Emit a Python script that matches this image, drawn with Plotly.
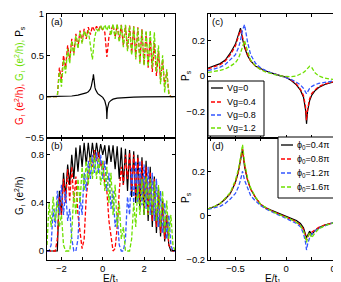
import plotly.graph_objects as go

W, H = 341, 282
FONT = "Liberation Sans, Arial, Helvetica, sans-serif"

# ---------------- data: panels (a) and (b) ----------------
E_ab = [-2.7, -2.6, -2.5, -2.4, -2.3, -2.2, -2.1, -2.0, -1.9, -1.8,
        -1.7, -1.6, -1.5, -1.4, -1.3, -1.2, -1.1, -1.0, -0.9, -0.8,
        -0.7, -0.6, -0.5, -0.4, -0.3, -0.2, -0.1, 0.0, 0.1, 0.2,
        0.3, 0.4, 0.5, 0.6, 0.7, 0.8, 0.9, 1.0, 1.1, 1.2,
        1.3, 1.4, 1.5, 1.6, 1.7, 1.8, 1.9, 2.0, 2.1, 2.2,
        2.3, 2.4, 2.5, 2.6, 2.7, 2.8, 2.9, 3.0, 3.1, 3.2,
        3.3, 3.4, 3.5]

G_up_a = [0, 0, 0, 0, 0, 0, 0.35, 0.2, 0.5, 0.35,
          0.62, 0.45, 0.7, 0.52, 0.76, 0.6, 0.8, 0.66, 0.82, 0.7,
          0.84, 0.75, 0.85, 0.8, 0.85, 0.81, 0.86, 0.8, 0.78, 0.48,
          0.72, 0.8, 0.87, 0.72, 0.87, 0.68, 0.87, 0.62, 0.86, 0.57,
          0.86, 0.52, 0.85, 0.48, 0.84, 0.42, 0.82, 0.38, 0.78, 0.35,
          0.72, 0.3, 0.65, 0.25, 0.55, 0.2, 0.45, 0.12, 0.3, 0.05,
          0, 0, 0]

G_dn_a = [0, 0, 0, 0, 0, 0, 0.3, 0.12, 0.45, 0.28,
          0.58, 0.4, 0.68, 0.5, 0.74, 0.58, 0.78, 0.64, 0.8, 0.72,
          0.8, 0.62, 0.45, 0.7, 0.82, 0.78, 0.86, 0.8, 0.87, 0.8,
          0.87, 0.74, 0.88, 0.7, 0.88, 0.66, 0.87, 0.6, 0.87, 0.55,
          0.86, 0.5, 0.85, 0.45, 0.83, 0.4, 0.81, 0.38, 0.8, 0.36,
          0.8, 0.35, 0.78, 0.3, 0.62, 0.15, 0.5, 0.05, 0.33, 0.02,
          0, 0, 0]

E_ps = [-2.7, -2.2, -1.8, -1.5, -1.2, -1.0, -0.8, -0.7, -0.6, -0.55,
        -0.5, -0.47, -0.45, -0.43, -0.41, -0.38, -0.35, -0.3, -0.25, -0.2,
        -0.1, 0.0, 0.1, 0.14, 0.17, 0.19, 0.2, 0.21, 0.23, 0.26,
        0.3, 0.4, 0.5, 0.7, 1.0, 1.5, 2.0, 2.5, 3.0, 3.5]
Ps_a = [0, 0, 0.003, 0.008, 0.018, 0.028, 0.045, 0.058, 0.09, 0.13,
        0.18, 0.23, 0.27, 0.21, 0.16, 0.115, 0.085, 0.055, 0.04, 0.028,
        0.008, -0.008, -0.05, -0.08, -0.12, -0.19, -0.27, -0.2, -0.14, -0.1,
        -0.07, -0.045, -0.03, -0.018, -0.01, -0.005, -0.003, -0.002, 0, 0]

G_vg0 = [0, 0, 0, 0, 0, 0, 0.5, 0.3, 0.65, 0.45,
         0.72, 0.55, 0.8, 0.6, 0.86, 0.66, 0.88, 0.7, 0.9, 0.72,
         0.9, 0.74, 0.9, 0.76, 0.9, 0.78, 0.89, 0.8, 0.88, 0.72,
         0.88, 0.74, 0.88, 0.68, 0.87, 0.6, 0.86, 0.55, 0.85, 0.5,
         0.84, 0.45, 0.83, 0.4, 0.8, 0.35, 0.78, 0.3, 0.75, 0.25,
         0.7, 0.2, 0.62, 0.15, 0.52, 0.12, 0.42, 0.08, 0.3, 0.05,
         0, 0, 0]

G_vg04 = [0, 0, 0, 0, 0, 0.1, 0.45, 0.3, 0.6, 0.4,
          0.68, 0.42, 0.7, 0.4, 0.62, 0.3, 0.15, 0.02, 0.1, 0.45,
          0.6, 0.78, 0.7, 0.84, 0.75, 0.82, 0.7, 0.75, 0.55, 0.5,
          0.25, 0.1, 0.0, 0.02, 0.2, 0.5, 0.7, 0.55, 0.8, 0.6,
          0.82, 0.5, 0.8, 0.45, 0.78, 0.4, 0.75, 0.35, 0.7, 0.3,
          0.66, 0.25, 0.6, 0.2, 0.5, 0.15, 0.4, 0.1, 0.3, 0.05,
          0.02, 0, 0]

G_vg08 = [0, 0, 0.05, 0.35, 0.2, 0.5, 0.3, 0.55, 0.3, 0.5,
          0.25, 0.35, 0.1, 0.0, 0.0, 0.1, 0.45, 0.3, 0.65, 0.5,
          0.75, 0.6, 0.8, 0.65, 0.82, 0.65, 0.8, 0.6, 0.75, 0.5,
          0.65, 0.35, 0.5, 0.2, 0.3, 0.05, 0.0, 0.0, 0.1, 0.45,
          0.3, 0.7, 0.4, 0.75, 0.4, 0.75, 0.38, 0.72, 0.35, 0.7,
          0.3, 0.65, 0.25, 0.6, 0.2, 0.5, 0.15, 0.4, 0.1, 0.3,
          0.05, 0, 0]

G_vg12 = [0.05, 0.4, 0.2, 0.45, 0.25, 0.42, 0.2, 0.3, 0.05, 0.0,
          0.0, 0.0, 0.15, 0.5, 0.3, 0.6, 0.4, 0.7, 0.5, 0.75,
          0.55, 0.78, 0.6, 0.8, 0.6, 0.78, 0.55, 0.75, 0.5, 0.7,
          0.4, 0.65, 0.3, 0.55, 0.2, 0.4, 0.1, 0.2, 0.0, 0.0,
          0.0, 0.1, 0.4, 0.2, 0.55, 0.3, 0.6, 0.3, 0.62, 0.3,
          0.6, 0.3, 0.58, 0.25, 0.55, 0.2, 0.5, 0.15, 0.42, 0.1,
          0.3, 0.05, 0.0]

# ---------------- data: panels (c) and (d) ----------------
E_cd = [-0.77, -0.7, -0.65, -0.6, -0.55, -0.5, -0.47, -0.45, -0.43, -0.41,
        -0.38, -0.35, -0.3, -0.25, -0.2, -0.15, -0.1, -0.05, 0.0, 0.05,
        0.1, 0.14, 0.17, 0.19, 0.2, 0.21, 0.23, 0.25, 0.28, 0.32,
        0.38, 0.44, 0.5]

Ps_vg0 = [0.045, 0.058, 0.07, 0.09, 0.13, 0.18, 0.23, 0.27, 0.21, 0.16,
          0.115, 0.085, 0.055, 0.04, 0.028, 0.018, 0.008, 0.0, -0.008, -0.025,
          -0.05, -0.08, -0.12, -0.19, -0.27, -0.2, -0.14, -0.11, -0.085, -0.065,
          -0.048, -0.038, -0.03]
Ps_vg04 = [0.04, 0.052, 0.064, 0.085, 0.12, 0.17, 0.22, 0.26, 0.22, 0.17,
           0.12, 0.085, 0.055, 0.038, 0.026, 0.016, 0.007, 0.0, -0.007, -0.022,
           -0.045, -0.075, -0.11, -0.17, -0.25, -0.19, -0.13, -0.1, -0.08, -0.06,
           -0.045, -0.035, -0.028]
Ps_vg08 = [0.03, 0.04, 0.05, 0.065, 0.09, 0.12, 0.16, 0.2, 0.26, 0.29,
           0.19, 0.12, 0.07, 0.045, 0.03, 0.018, 0.008, 0.0, -0.008, -0.02,
           -0.035, -0.05, -0.07, -0.095, -0.1, -0.09, -0.07, -0.06, -0.05, -0.042,
           -0.035, -0.03, -0.026]
Ps_vg12 = [0.02, 0.026, 0.032, 0.04, 0.055, 0.075, 0.1, 0.13, 0.17, 0.2,
           0.14, 0.09, 0.055, 0.035, 0.022, 0.012, 0.006, 0.0, -0.002, -0.004,
           0.0, 0.01, 0.02, 0.03, 0.035, 0.04, 0.055, 0.05, 0.02, 0.0,
           -0.012, -0.018, -0.02]

Ps_phi04 = [0.03, 0.042, 0.055, 0.075, 0.1, 0.15, 0.2, 0.25, 0.3, 0.22,
            0.16, 0.12, 0.08, 0.05, 0.035, 0.025, 0.015, 0.005, -0.003, -0.012,
            -0.022, -0.035, -0.055, -0.085, -0.1, -0.09, -0.07, -0.085, -0.07, -0.055,
            -0.043, -0.035, -0.028]
Ps_phi08 = [0.03, 0.042, 0.055, 0.076, 0.1, 0.15, 0.2, 0.25, 0.3, 0.23,
            0.16, 0.12, 0.08, 0.05, 0.034, 0.023, 0.012, 0.002, -0.006, -0.016,
            -0.028, -0.042, -0.062, -0.09, -0.11, -0.1, -0.08, -0.075, -0.065, -0.053,
            -0.042, -0.034, -0.028]
Ps_phi12 = [0.028, 0.035, 0.042, 0.055, 0.075, 0.1, 0.13, 0.16, 0.2, 0.16,
            0.12, 0.09, 0.065, 0.045, 0.03, 0.018, 0.008, -0.002, -0.012, -0.022,
            -0.035, -0.05, -0.08, -0.12, -0.155, -0.13, -0.1, -0.085, -0.07, -0.057,
            -0.045, -0.036, -0.029]
Ps_phi16 = [0.03, 0.043, 0.056, 0.078, 0.105, 0.16, 0.21, 0.26, 0.32, 0.24,
            0.17, 0.125, 0.082, 0.05, 0.034, 0.022, 0.011, 0.0, -0.008, -0.018,
            -0.03, -0.045, -0.068, -0.1, -0.12, -0.1, -0.075, -0.1, -0.08, -0.06,
            -0.045, -0.036, -0.029]

vg_labels = ["Vg=0", "Vg=0.4", "Vg=0.8", "Vg=1.2"]
phi_labels = ["ϕ<sub>0</sub>=0.4π", "ϕ<sub>0</sub>=0.8π", "ϕ<sub>0</sub>=1.2π", "ϕ<sub>0</sub>=1.6π"]

BLACK, RED, BLUE, GREEN = "#000000", "#ff0000", "#3355ff", "#6ee000"
DASH = "4px,2px"
colors = [BLACK, RED, BLUE, GREEN]
dashes = ["solid", DASH, DASH, DASH]


def px(x):
    return x / W


def py(y):
    return 1 - y / H


fig = go.Figure()


def line(x, y, xa, ya, color, dash, name, width=1.3):
    fig.add_trace(go.Scatter(x=x, y=y, xaxis=xa, yaxis=ya, mode="lines", name=name,
                             showlegend=False,
                             line=dict(color=color, width=width, dash=dash)))


# (a)
line(E_ab, G_up_a, "x", "y", RED, DASH, "G_up")
line(E_ab, G_dn_a, "x", "y", GREEN, DASH, "G_down")
line(E_ps, Ps_a, "x", "y", BLACK, "solid", "Ps", 1.2)
# (b)
for series, c, d, n in zip([G_vg0, G_vg04, G_vg08, G_vg12], colors, dashes, vg_labels):
    line(E_ab, series, "x2", "y2", c, d, n, 1.2 if d == "solid" else 1.3)
# (c)
for series, c, d, n in zip([Ps_vg0, Ps_vg04, Ps_vg08, Ps_vg12], colors, dashes, vg_labels):
    line(E_cd, series, "x3", "y3", c, d, n, 1.2 if d == "solid" else 1.3)
# (d)
for series, c, d, n in zip([Ps_phi04, Ps_phi08, Ps_phi12, Ps_phi16], colors, dashes, phi_labels):
    line(E_cd, series, "x4", "y4", c, d, n, 1.2 if d == "solid" else 1.3)


def axis(domain, rng, tickvals, ticktext, anchor, showlabels):
    return dict(domain=domain, range=rng, tickmode="array", tickvals=tickvals,
                ticktext=ticktext, showticklabels=showlabels, ticks="inside",
                ticklen=3, tickwidth=1, tickcolor="black", showline=True,
                linecolor="black", linewidth=1, mirror="ticks", showgrid=False,
                zeroline=False, anchor=anchor, automargin=False,
                ticklabeloverflow="allow",
                tickfont=dict(size=9.5, color="black", family=FONT))


xd_ab = [px(39), px(167)]
xd_cd = [px(200), px(329)]
yd_top = [py(130), py(6)]
yd_bot = [py(252), py(130)]

xt_ab = [-2, -1, 0, 1, 2, 3]
xl_ab = ["−2", " ", "0", " ", "2", " "]
xt_cd = [-0.75, -0.5, -0.25, 0, 0.25, 0.5]
xl_cd = [" ", "−0.5", " ", "0", " ", "0.5"]

fig.update_layout(
    template="none",
    width=W, height=H, autosize=False,
    margin=dict(l=0, r=0, t=0, b=0, pad=0),
    paper_bgcolor="white", plot_bgcolor="white",
    font=dict(family=FONT, size=10, color="black"),
    showlegend=False,
    xaxis=axis(xd_ab, [-2.7, 3.5], xt_ab, xl_ab, "y", False),
    yaxis=axis(yd_top, [-0.5, 1.0], [-0.5, 0, 0.5, 1], ["−0.5", "0", "0.5", "1"], "x", True),
    xaxis2=axis(xd_ab, [-2.7, 3.5], xt_ab, xl_ab, "y2", True),
    yaxis2=axis(yd_bot, [-0.075, 0.94], [0, 0.4, 0.8], ["0", "0.4", "0.8"], "x2", True),
    xaxis3=axis(xd_cd, [-0.77, 0.5], xt_cd, xl_cd, "y3", False),
    yaxis3=axis(yd_top, [-0.35, 0.35], [-0.2, 0, 0.2], ["−0.2", "0", "0.2"], "x3", True),
    xaxis4=axis(xd_cd, [-0.77, 0.5], xt_cd, xl_cd, "y4", True),
    yaxis4=axis(yd_bot, [-0.2, 0.35], [-0.2, 0, 0.2], ["−0.2", "0", "0.2"], "x4", True),
)

ann = []


def text(x, y, t, angle=0, xanchor="center", size=10):
    ann.append(dict(x=px(x), y=py(y), xref="paper", yref="paper", text=t,
                    showarrow=False, textangle=angle, xanchor=xanchor, yanchor="middle",
                    font=dict(family=FONT, size=size, color="black")))


# panel letters
text(41, 13, "(a)", xanchor="left", size=9.5)
text(41, 137, "(b)", xanchor="left", size=9.5)
text(202, 13, "(c)", xanchor="left", size=9.5)
text(202, 137, "(d)", xanchor="left", size=9.5)

# axis titles
text(11, 68, '<span style="color:#ff0000">G<sub>↑</sub> (e<sup>2</sup>/h),</span> '
             '<span style="color:#6ee000">G<sub>↓</sub> (e<sup>2</sup>/h),</span> P<sub>s</sub>',
     angle=-90)
text(11, 188, "G<sub>↑</sub> (e<sup>2</sup>/h)", angle=-90)
text(178, 68, "P<sub>s</sub>", angle=-90)
text(178, 190, "P<sub>s</sub>", angle=-90)
text(103, 270, "E/t₁", size=10)
text(265, 270, "E/t₁", size=10)

shapes = []


def legend_box(x0, y0, x1, y1, rows, labels, sx0, sx1, tx):
    shapes.append(dict(type="rect", xref="paper", yref="paper", x0=px(x0), x1=px(x1),
                       y0=py(y1), y1=py(y0), line=dict(color="black", width=1),
                       fillcolor="white", layer="above"))
    for ry, lab, c, d in zip(rows, labels, colors, dashes):
        shapes.append(dict(type="line", xref="paper", yref="paper", x0=px(sx0), x1=px(sx1),
                           y0=py(ry), y1=py(ry), layer="above",
                           line=dict(color=c, width=1.3, dash=d)))
        text(tx, ry, lab, xanchor="left", size=9)


legend_box(200, 73, 256, 128, [80, 94, 107, 120], vg_labels, 203, 215, 217)
legend_box(270, 129, 329, 190, [137, 151, 165, 179], phi_labels, 273, 285, 287)

fig.update_layout(annotations=ann, shapes=shapes)
fig.write_html("out.html")
